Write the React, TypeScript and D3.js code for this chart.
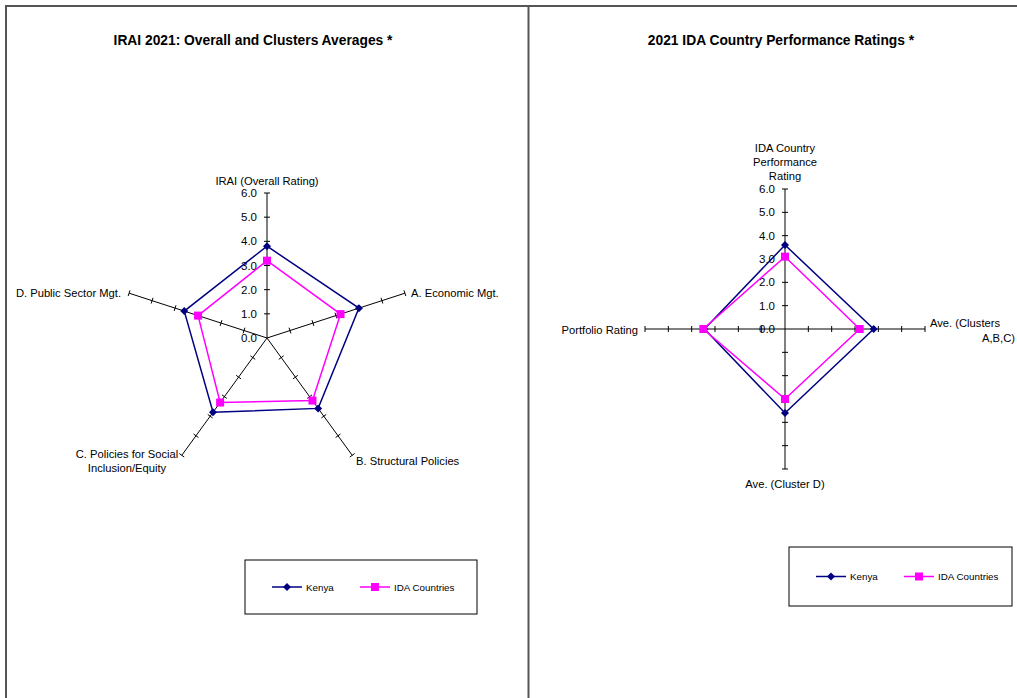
import React from 'react';
import * as d3 from 'd3';

// chart values
const leftAxes = ['IRAI (Overall Rating)', 'A. Economic Mgt.', 'B. Structural Policies', 'C. Policies for Social Inclusion/Equity', 'D. Public Sector Mgt.'];
const leftKenya = [3.8, 4.0, 3.6, 3.8, 3.6];
const leftIDA = [3.2, 3.2, 3.2, 3.3, 3.0];

const rightAxes = ['IDA Country Performance Rating', 'Ave. (Clusters A,B,C)', 'Ave. (Cluster D)', 'Portfolio Rating'];
const rightKenya = [3.6, 3.8, 3.6, 3.45];
const rightIDA = [3.1, 3.2, 3.0, 3.5];

const tickValues = [0, 1, 2, 3, 4, 5, 6];
const tickLabels = ['0.0', '1.0', '2.0', '3.0', '4.0', '5.0', '6.0'];

const seriesNames = ['Kenya', 'IDA Countries'];
const KENYA = '#000080';
const IDA = '#FF00FF';
const FONT = 'Liberation Sans, Arial, sans-serif';

type LabelPlace = { lines: string[]; x: number; y: number; anchor: string };

interface RadarProps {
  cx: number;
  cy: number;
  radius: number;
  axes: string[];
  kenya: number[];
  ida: number[];
  labels: LabelPlace[];
}

const Diamond = ({ x, y }: { x: number; y: number }) => (
  <path d={`M${x},${y - 4}L${x + 4},${y}L${x},${y + 4}L${x - 4},${y}Z`} fill={KENYA} />
);
const Square = ({ x, y }: { x: number; y: number }) => (
  <rect x={x - 4} y={y - 4} width={8} height={8} fill={IDA} />
);

const Radar: React.FC<RadarProps> = ({ cx, cy, radius, axes, kenya, ida, labels }) => {
  const r = d3.scaleLinear().domain([0, 6]).range([0, radius]);
  const angle = d3.scalePoint<number>().domain(d3.range(axes.length + 1)).range([0, 2 * Math.PI]);
  const pt = (i: number, v: number): [number, number] => {
    const a = angle(i)!;
    return [cx + r(v) * Math.sin(a), cy - r(v) * Math.cos(a)];
  };
  const line = d3.lineRadial<number>()
    .angle((_, i) => angle(i)!)
    .radius(d => r(d))
    .curve(d3.curveLinearClosed);

  return (
    <g>
      {axes.map((_, i) => {
        const a = angle(i)!;
        const [x2, y2] = pt(i, 6);
        const px = Math.cos(a) * 3, py = Math.sin(a) * 3;
        return (
          <g key={i}>
            <line x1={cx} y1={cy} x2={x2} y2={y2} stroke="#000" strokeWidth={1} />
            {tickValues.slice(1).map(t => {
              const [tx, ty] = pt(i, t);
              return <line key={t} x1={tx - px} y1={ty - py} x2={tx + px} y2={ty + py} stroke="#000" strokeWidth={1} />;
            })}
          </g>
        );
      })}
      {tickValues.map((t, k) => (
        <text key={t} x={cx - 10} y={cy - r(t) + 4} textAnchor="end" fontSize={11.5} fontFamily={FONT} fill="#000">
          {tickLabels[k]}
        </text>
      ))}
      <path d={line(kenya)!} transform={`translate(${cx},${cy})`} fill="none" stroke={KENYA} strokeWidth={1.5} />
      <path d={line(ida)!} transform={`translate(${cx},${cy})`} fill="none" stroke={IDA} strokeWidth={1.5} />
      {kenya.map((v, i) => {
        const [x, y] = pt(i, v);
        return <Diamond key={i} x={x} y={y} />;
      })}
      {ida.map((v, i) => {
        const [x, y] = pt(i, v);
        return <Square key={i} x={x} y={y} />;
      })}
      {labels.map((l, i) => (
        <text key={i} x={l.x} y={l.y} textAnchor={l.anchor} fontSize={11.2} fontFamily={FONT} fill="#000">
          {l.lines.map((s, j) => (
            <tspan key={j} x={l.x} dy={j === 0 ? 0 : 14}>{s}</tspan>
          ))}
        </text>
      ))}
    </g>
  );
};

const Legend = ({ x, y, w, h }: { x: number; y: number; w: number; h: number }) => {
  const my = y + h / 2;
  const x0 = x + 27;
  const x1 = x + 115;
  return (
    <g>
      <rect x={x} y={y} width={w} height={h} fill="#fff" stroke="#000" strokeWidth={1} />
      <line x1={x0} y1={my} x2={x0 + 30} y2={my} stroke={KENYA} strokeWidth={1.5} />
      <Diamond x={x0 + 15} y={my} />
      <text x={x0 + 34} y={my + 3.5} fontSize={9.8} fontFamily={FONT}>{seriesNames[0]}</text>
      <line x1={x1} y1={my} x2={x1 + 30} y2={my} stroke={IDA} strokeWidth={1.5} />
      <Square x={x1 + 15} y={my} />
      <text x={x1 + 34} y={my + 3.5} fontSize={9.8} fontFamily={FONT}>{seriesNames[1]}</text>
    </g>
  );
};

export default function App() {
  const leftLabels: LabelPlace[] = [
    { lines: [leftAxes[0]], x: 267, y: 185, anchor: 'middle' },
    { lines: [leftAxes[1]], x: 411, y: 297, anchor: 'start' },
    { lines: [leftAxes[2]], x: 356, y: 465, anchor: 'start' },
    { lines: ['C. Policies for Social', 'Inclusion/Equity'], x: 127, y: 458, anchor: 'middle' },
    { lines: [leftAxes[4]], x: 121, y: 297, anchor: 'end' },
  ];
  const rightLabels: LabelPlace[] = [
    { lines: ['IDA Country', 'Performance', 'Rating'], x: 785, y: 152, anchor: 'middle' },
    { lines: ['Ave. (Clusters'], x: 930, y: 327, anchor: 'start' },
    { lines: ['A,B,C)'], x: 1015, y: 342, anchor: 'end' },
    { lines: [rightAxes[2]], x: 785, y: 488, anchor: 'middle' },
    { lines: [rightAxes[3]], x: 638, y: 334, anchor: 'end' },
  ];

  return (
    <svg width={1017} height={698} style={{ position: 'absolute', left: 0, top: 0, background: '#fff' }}>
      <rect x={0} y={0} width={1017} height={698} fill="#fff" />
      <path d="M6,705V6H528.5V705" fill="none" stroke="#555" strokeWidth={2} />
      <path d="M528.5,6H1025" fill="none" stroke="#555" strokeWidth={2} />
      <text x={253} y={45} textAnchor="middle" fontSize={13.8} fontWeight="bold" fontFamily={FONT}>
        IRAI 2021: Overall and Clusters Averages *
      </text>
      <text x={781} y={45} textAnchor="middle" fontSize={13.8} fontWeight="bold" fontFamily={FONT}>
        2021 IDA Country Performance Ratings *
      </text>
      <Radar cx={267} cy={338} radius={145} axes={leftAxes} kenya={leftKenya} ida={leftIDA} labels={leftLabels} />
      <Radar cx={785} cy={329} radius={140} axes={rightAxes} kenya={rightKenya} ida={rightIDA} labels={rightLabels} />
      <Legend x={245} y={560} w={232} h={54} />
      <Legend x={789} y={547} w={223} h={59} />
    </svg>
  );
}
